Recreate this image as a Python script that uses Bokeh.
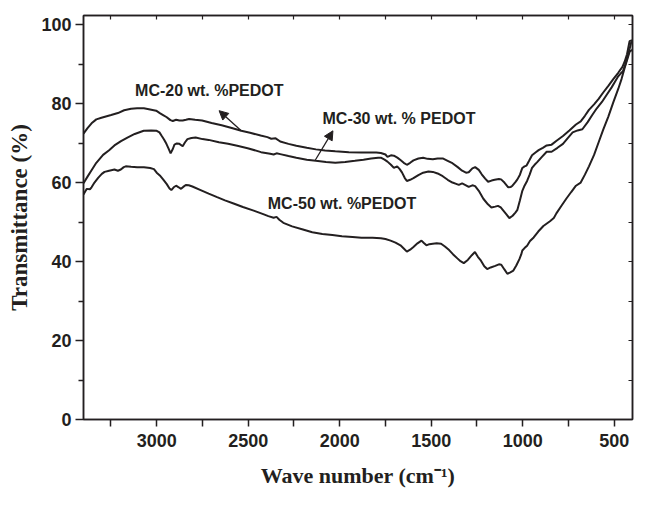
from bokeh.plotting import figure
from bokeh.models import Range1d, FixedTicker, LinearAxis, Label, Arrow, NormalHead
from bokeh.embed import file_html
from bokeh.resources import INLINE

# ---- data (wave number cm^-1, transmittance %) ----
wn_20 = [3400, 3378, 3356, 3330, 3302, 3249, 3212, 3178, 3140, 3107, 3070, 3036, 3003, 2983, 2965,
         2947, 2925, 2912, 2894, 2876, 2858, 2840, 2823, 2790, 2752, 2700, 2645, 2590, 2538, 2490,
         2432, 2395, 2374, 2350, 2325, 2280, 2237, 2180, 2130, 2080, 2024, 1950, 1881, 1800, 1775,
         1750, 1739, 1720, 1704, 1685, 1668, 1650, 1633, 1615, 1597, 1570, 1544, 1520, 1491, 1465,
         1437, 1410, 1384, 1355, 1331, 1310, 1295, 1275, 1260, 1240, 1224, 1205, 1189, 1170, 1153,
         1130, 1118, 1100, 1079, 1065, 1056, 1040, 1029, 1015, 1002, 990, 979, 965, 949, 930,
         913, 890, 869, 842, 815, 780, 745, 709, 683, 660, 638, 610, 585, 560, 532,
         505, 478, 455, 443, 430, 416, 405, 400]
tr_20 = [72.4, 73.8, 75.0, 76.0, 76.4, 77.1, 77.6, 78.3, 78.7, 78.8, 78.8, 78.5, 78.2, 77.6, 77.1,
         76.6, 75.8, 75.6, 75.9, 75.7, 75.7, 75.9, 76.1, 75.9, 75.7, 75.1, 74.5, 73.8, 73.1, 72.6,
         71.9, 71.5, 71.1, 71.2, 70.4, 69.8, 69.3, 68.8, 68.4, 68.1, 67.9, 67.7, 67.6, 67.6, 67.5,
         67.1, 66.5, 66.9, 66.8, 66.3, 65.7, 65.0, 64.5, 65.0, 65.6, 66.1, 66.3, 66.0, 65.9, 66.1,
         66.1, 65.5, 64.9, 63.9, 63.0, 62.5, 62.6, 63.6, 63.9, 63.2, 62.1, 61.0, 60.2, 60.5, 60.7,
         60.9, 60.8, 60.0, 58.8, 58.9, 59.2, 60.1, 60.8, 62.0, 63.7, 64.1, 64.3, 65.5, 66.9, 67.6,
         68.2, 68.8, 69.4, 69.6, 70.6, 71.8, 73.2, 74.7, 75.5, 76.9, 78.4, 79.8, 81.2, 82.8, 84.5,
         86.2, 87.8, 89.3, 90.6, 92.5, 95.8, 96.0, 96.0]

wn_30 = [3400, 3378, 3356, 3330, 3293, 3260, 3231, 3195, 3160, 3120, 3071, 3030, 3000, 2985, 2974,
         2960, 2947, 2935, 2924, 2912, 2903, 2890, 2876, 2858, 2845, 2832, 2810, 2787, 2750, 2716,
         2660, 2610, 2560, 2503, 2430, 2380, 2361, 2345, 2325, 2280, 2237, 2180, 2130, 2075, 2024,
         1970, 1917, 1870, 1828, 1790, 1775, 1755, 1739, 1720, 1704, 1686, 1672, 1659, 1645, 1633,
         1615, 1597, 1570, 1544, 1515, 1491, 1465, 1437, 1410, 1384, 1360, 1349, 1331, 1310, 1295,
         1275, 1260, 1240, 1215, 1190, 1171, 1150, 1135, 1120, 1109, 1090, 1073, 1055, 1040, 1029,
         1015, 1002, 990, 976, 962, 949, 935, 922, 895, 869, 842, 810, 780, 755, 727,
         700, 674, 645, 620, 595, 567, 540, 514, 495, 478, 465, 452, 440, 425, 415,
         407, 400]
tr_30 = [59.8, 61.5, 63.1, 65.0, 67.0, 68.2, 69.4, 70.5, 71.4, 72.3, 73.1, 73.2, 73.1, 72.7, 71.9,
         70.9, 69.8, 68.6, 67.4, 68.5, 69.6, 69.9, 69.8, 69.2, 70.2, 71.0, 71.3, 71.4, 71.0, 70.8,
         70.2, 69.8, 69.3, 68.7, 67.7, 67.3, 67.1, 67.4, 67.2, 66.7, 66.3, 65.8, 65.5, 65.2, 65.0,
         65.2, 65.5, 65.8, 66.1, 66.3, 66.3, 65.8, 65.3, 64.5, 63.7, 64.1, 63.4, 62.5, 61.2, 60.4,
         60.7, 61.1, 61.9, 62.5, 62.8, 62.7, 62.3, 61.6, 60.7, 60.0, 59.6, 59.4, 59.8, 59.3, 58.9,
         59.3, 59.1, 57.9, 55.9, 54.5, 53.7, 53.9, 54.1, 53.7, 53.1, 52.0, 51.0, 51.6, 52.4, 53.1,
         55.5, 57.9, 59.2, 60.4, 62.0, 63.7, 64.5, 65.1, 66.5, 67.8, 67.8, 68.8, 69.8, 71.2, 72.7,
         73.2, 73.5, 75.3, 77.1, 78.8, 80.4, 82.3, 84.1, 85.6, 86.9, 87.6, 88.2, 89.8, 92.2, 94.0,
         95.5, 95.7]

wn_50 = [3400, 3390, 3382, 3365, 3356, 3340, 3320, 3300, 3285, 3260, 3231, 3212, 3196, 3180, 3169,
         3140, 3107, 3070, 3036, 3015, 3000, 2983, 2965, 2945, 2930, 2920, 2907, 2894, 2880, 2867,
         2855, 2841, 2825, 2805, 2760, 2716, 2670, 2627, 2580, 2529, 2470, 2418, 2390, 2361, 2345,
         2330, 2308, 2260, 2201, 2150, 2095, 2040, 1988, 1930, 1881, 1820, 1775, 1750, 1722, 1695,
         1668, 1650, 1633, 1615, 1597, 1575, 1553, 1540, 1526, 1510, 1491, 1470, 1446, 1425, 1402,
         1380, 1357, 1340, 1322, 1300, 1278, 1261, 1245, 1228, 1210, 1194, 1175, 1150, 1130, 1117,
         1100, 1084, 1070, 1051, 1035, 1018, 1008, 1002, 990, 976, 960, 940, 915, 887, 851,
         830, 816, 790, 762, 735, 709, 683, 660, 638, 610, 585, 560, 532, 505, 478,
         460, 443, 430, 416, 405, 400]
tr_50 = [57.0, 57.8, 58.4, 58.3, 58.8, 60.0, 61.2, 62.2, 62.7, 63.0, 63.3, 63.0, 63.3, 63.9, 64.1,
         64.0, 63.9, 63.9, 63.7, 63.4, 62.5, 61.8, 60.8, 59.6, 58.5, 58.1, 58.8, 59.2, 58.8, 58.4,
         58.9, 59.4, 59.3, 59.0, 58.1, 57.2, 56.3, 55.5, 54.7, 53.8, 52.9, 52.0, 51.5, 51.1, 51.3,
         50.6, 49.8, 48.9, 48.1, 47.4, 47.0, 46.7, 46.4, 46.2, 46.0, 46.0, 45.9, 45.7, 45.3, 44.8,
         44.1, 43.3, 42.5, 43.0, 43.7, 44.6, 45.3, 44.7, 44.1, 44.4, 44.5, 44.6, 44.5, 43.8, 42.9,
         41.8, 40.8, 40.1, 39.6, 40.4, 41.6, 42.4, 41.2, 40.2, 38.8, 38.1, 38.5, 38.9, 39.3, 39.2,
         38.0, 36.9, 37.2, 37.7, 39.0, 40.6, 41.8, 42.8, 43.4, 44.0, 45.2, 46.1, 47.6, 49.0, 50.2,
         51.0, 52.2, 54.0, 55.9, 57.6, 59.2, 60.0, 62.0, 64.1, 67.0, 70.2, 73.4, 76.7, 80.3, 83.7,
         86.2, 89.0, 91.0, 93.1, 93.5, 93.5]

x_major = [3000, 2500, 2000, 1500, 1000, 500]
x_minor = [3250, 2750, 2250, 1750, 1250, 750]
y_major = [0, 20, 40, 60, 80, 100]
y_minor = [10, 30, 50, 70, 90]

labels = ["MC-20 wt. %PEDOT", "MC-30 wt. % PEDOT", "MC-50 wt. %PEDOT"]

INK = "#231f20"

p = figure(width=634, height=491, x_range=Range1d(3400, 400), y_range=Range1d(0, 102.3),
           output_backend="svg", toolbar_location=None,
           min_border_left=83, min_border_right=2, min_border_top=15, min_border_bottom=72)
p.grid.visible = False
p.outline_line_color = INK
p.outline_line_width = 1.5
p.background_fill_color = "white"
p.border_fill_color = "white"

for wn, tr in ((wn_20, tr_20), (wn_30, tr_30), (wn_50, tr_50)):
    p.line(wn, tr, line_color=INK, line_width=2)

xax = p.xaxis[0]
xax.ticker = FixedTicker(ticks=x_major, minor_ticks=x_minor)
xax.axis_label = "Wave number (cm\u207b\u00b9)"
yax = p.yaxis[0]
yax.ticker = FixedTicker(ticks=y_major, minor_ticks=y_minor)
yax.axis_label = "Transmittance (%)"

for ax in (xax, yax):
    ax.axis_line_color = INK
    ax.axis_line_width = 1.5
    ax.major_tick_line_color = INK
    ax.minor_tick_line_color = INK
    ax.major_tick_line_width = 1.5
    ax.minor_tick_line_width = 1.5
    ax.major_tick_in = 0
    ax.minor_tick_in = 0
    ax.major_tick_out = 8
    ax.minor_tick_out = 5
    ax.major_label_text_font = "Liberation Sans"
    ax.major_label_text_font_style = "bold"
    ax.major_label_text_font_size = "18px"
    ax.major_label_text_color = INK
    ax.axis_label_text_font = "Liberation Serif"
    ax.axis_label_text_font_style = "bold"
    ax.axis_label_text_color = INK
xax.minor_tick_out = 7
xax.major_tick_out = 7
xax.major_label_standoff = 7
xax.axis_label_standoff = 13
xax.axis_label_text_font_size = "22px"
yax.major_label_standoff = 4
yax.axis_label_standoff = 6
yax.axis_label_text_font_size = "23px"

# frame ticks on top and right (tick marks only, no labels)
top = LinearAxis(ticker=FixedTicker(ticks=[], minor_ticks=x_major + x_minor))
right = LinearAxis(ticker=FixedTicker(ticks=[], minor_ticks=y_major + y_minor))
for ax in (top, right):
    ax.axis_line_color = INK
    ax.axis_line_width = 1.5
    ax.minor_tick_line_color = INK
    ax.minor_tick_line_width = 1.2
    ax.minor_tick_in = 4
    ax.minor_tick_out = 0
    ax.major_tick_in = 0
    ax.major_tick_out = 0
    ax.major_label_standoff = 0
p.add_layout(top, "above")
p.add_layout(right, "right")

# annotation texts
text_pos = [(3118, 83.4), (2094, 76.1), (2393, 54.8)]
for (tx, ty), t in zip(text_pos, labels):
    p.add_layout(Label(x=tx, y=ty, text=t, text_font="Liberation Sans", text_font_style="bold",
                       text_font_size="16px", text_color=INK, text_baseline="middle",
                       text_align="left"))

# arrows (tail on curve, head toward label)
arrows = [((2538, 73.1), (2659, 78.2)), ((2133, 65.7), (2037, 73.1))]
for (xs, ys), (xe, ye) in arrows:
    p.add_layout(Arrow(x_start=xs, y_start=ys, x_end=xe, y_end=ye, line_color=INK, line_width=1.3,
                       end=NormalHead(size=9, fill_color=INK, line_color=INK, line_width=1)))

open("out.html", "w").write(file_html(p, INLINE))
